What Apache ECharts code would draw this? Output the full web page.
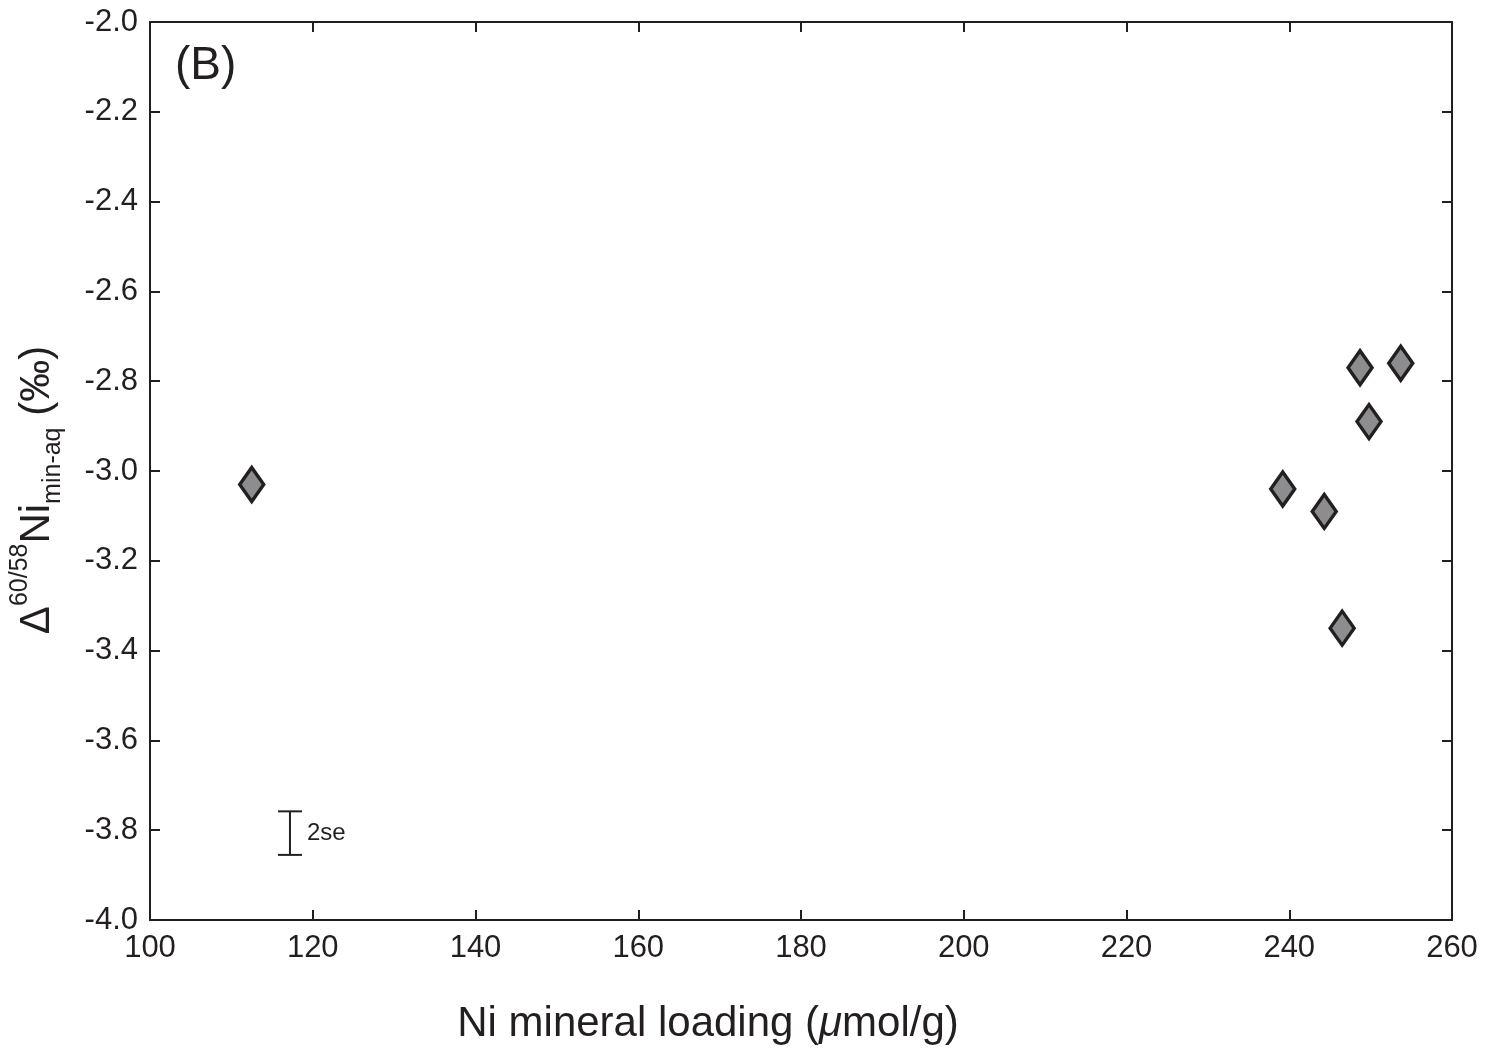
<!DOCTYPE html>
<html>
<head>
<meta charset="utf-8">
<script src="https://cdn.jsdelivr.net/npm/echarts@6/dist/echarts.min.js"></script>
<style>
  html, body { margin: 0; padding: 0; background: #fff; }
  #chart { width: 1493px; height: 1050px; }
</style>
</head>
<body>
<div id="chart"></div>
<script>
// Ni loading (umol/g) and fractionation values
var loading = [112.5, 239.2, 244.3, 246.5, 248.7, 249.8, 253.7];
var delta = [-3.03, -3.04, -3.09, -3.35, -2.77, -2.89, -2.76];

// typical 2se error bar shown in the lower left
var errX = [117.2];
var errLow = [-3.855];
var errHigh = [-3.758];
var errText = ['2se'];

var ink = '#231f20';
var fontName = 'Liberation Sans, Arial, sans-serif';

var points = [];
for (var i = 0; i < loading.length; i++) {
  points.push([loading[i], delta[i]]);
}

var myChart = echarts.init(document.getElementById('chart'));

var axisBase = {
  axisLine: { show: true, lineStyle: { color: ink, width: 2 } },
  axisTick: { show: true, inside: true, length: 10, lineStyle: { color: ink, width: 2 } },
  splitLine: { show: false }
};

var option = {
  animation: false,
  backgroundColor: '#fff',
  grid: { left: 150, right: 41, top: 22, bottom: 130 },
  graphic: [{
    type: 'text',
    left: 175,
    top: 43,
    style: { text: '(B)', font: '46px ' + fontName, fill: ink }
  }],
  xAxis: [
    Object.assign({}, axisBase, {
      type: 'value', min: 100, max: 260, interval: 20,
      name: '{t|Ni mineral loading (}{i|μ}{t|mol/g)}',
      nameLocation: 'middle',
      nameGap: 83,
      nameTextStyle: {
        padding: [0, 186, 0, 0],
        rich: {
          t: { fontSize: 42, fontFamily: fontName, color: ink },
          i: { fontSize: 42, fontFamily: fontName, fontStyle: 'italic', color: ink }
        }
      },
      axisLabel: { fontSize: 31, fontFamily: fontName, color: ink, margin: 13 }
    }),
    Object.assign({}, axisBase, {
      type: 'value', min: 100, max: 260, interval: 20, position: 'top',
      axisLabel: { show: false }
    })
  ],
  yAxis: [
    Object.assign({}, axisBase, {
      type: 'value', min: -4, max: -2, interval: 0.2,
      name: '{d|Δ}{sup|60/58}{d|Ni}{sub|min-aq}{d| (‰)}',
      nameLocation: 'middle',
      nameGap: 84,
      nameTextStyle: {
        padding: [0, 38, 0, 0],
        rich: {
          d: { fontSize: 42, lineHeight: 58, fontFamily: fontName, color: ink },
          sup: { fontSize: 25, lineHeight: 45, verticalAlign: 'top', fontFamily: fontName, color: ink },
          sub: { fontSize: 25, lineHeight: 25, verticalAlign: 'bottom', fontFamily: fontName, color: ink }
        }
      },
      axisLabel: {
        fontSize: 31, fontFamily: fontName, color: ink, margin: 12,
        formatter: function (v) { return v.toFixed(1); }
      }
    }),
    Object.assign({}, axisBase, {
      type: 'value', min: -4, max: -2, interval: 0.2, position: 'right',
      axisLabel: { show: false }
    })
  ],
  series: [
    {
      type: 'scatter',
      xAxisIndex: 0,
      yAxisIndex: 0,
      symbol: 'diamond',
      symbolSize: [24, 34],
      itemStyle: { color: '#8d8d8f', borderColor: ink, borderWidth: 3.5, opacity: 1 },
      data: points,
      z: 5
    },
    {
      type: 'custom',
      xAxisIndex: 0,
      yAxisIndex: 0,
      data: [[errX[0], errLow[0], errHigh[0]]],
      renderItem: function (params, api) {
        var lo = api.coord([api.value(0), api.value(1)]);
        var hi = api.coord([api.value(0), api.value(2)]);
        var cap = 12;
        var st = { stroke: ink, lineWidth: 2 };
        return {
          type: 'group',
          children: [
            { type: 'line', shape: { x1: lo[0], y1: lo[1], x2: hi[0], y2: hi[1] }, style: st },
            { type: 'line', shape: { x1: lo[0] - cap, y1: lo[1], x2: lo[0] + cap, y2: lo[1] }, style: st },
            { type: 'line', shape: { x1: hi[0] - cap, y1: hi[1], x2: hi[0] + cap, y2: hi[1] }, style: st },
            {
              type: 'text',
              x: lo[0] + 17,
              y: (lo[1] + hi[1]) / 2,
              style: { text: errText[0], font: '24px ' + fontName, fill: ink, verticalAlign: 'middle', align: 'left' }
            }
          ]
        };
      }
    }
  ]
};

myChart.setOption(option);
</script>
</body>
</html>
